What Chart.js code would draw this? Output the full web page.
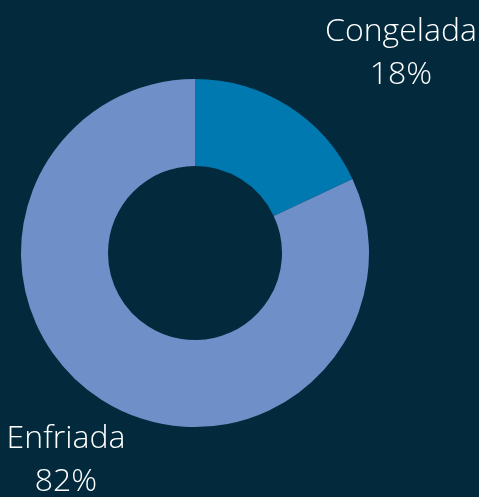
<!DOCTYPE html>
<html>
<head>
<meta charset="utf-8">
<script src="https://cdn.jsdelivr.net/npm/chart.js@4.4.0/dist/chart.umd.min.js"></script>
<style>
  html, body { margin: 0; padding: 0; background: #022a3c; }
  #wrap { width: 479px; height: 497px; position: relative; }
</style>
</head>
<body>
<div id="wrap"><canvas id="donut"></canvas></div>
<script>
const categories = ['Congelada', 'Enfriada'];
const shares = [18, 82];
const sliceColors = ['#0079b0', '#6e8fc8'];

// centre x and baseline y of the first line of each label
const labelAnchors = [[401, 41], [66, 448]];

const labelPlugin = {
  id: 'sliceLabels',
  afterDraw(chart) {
    const ctx = chart.ctx;
    ctx.save();
    ctx.fillStyle = '#ffffff';
    ctx.textAlign = 'center';
    ctx.textBaseline = 'alphabetic';
    ctx.font = '300 32px "Open Sans"';
    chart.data.labels.forEach((name, i) => {
      const [x, y] = labelAnchors[i];
      ctx.fillText(name, x, y);
      ctx.fillText(chart.data.datasets[0].data[i] + '%', x, y + 43);
    });
    ctx.restore();
  }
};

new Chart(document.getElementById('donut'), {
  type: 'doughnut',
  data: {
    labels: categories,
    datasets: [{
      data: shares,
      backgroundColor: sliceColors,
      borderWidth: 0
    }]
  },
  options: {
    responsive: true,
    maintainAspectRatio: false,
    animation: false,
    cutout: '50%',
    layout: { padding: { left: 21, right: 110, top: 79, bottom: 70 } },
    plugins: {
      legend: { display: false },
      tooltip: { enabled: false }
    }
  },
  plugins: [labelPlugin]
});
</script>
</body>
</html>
